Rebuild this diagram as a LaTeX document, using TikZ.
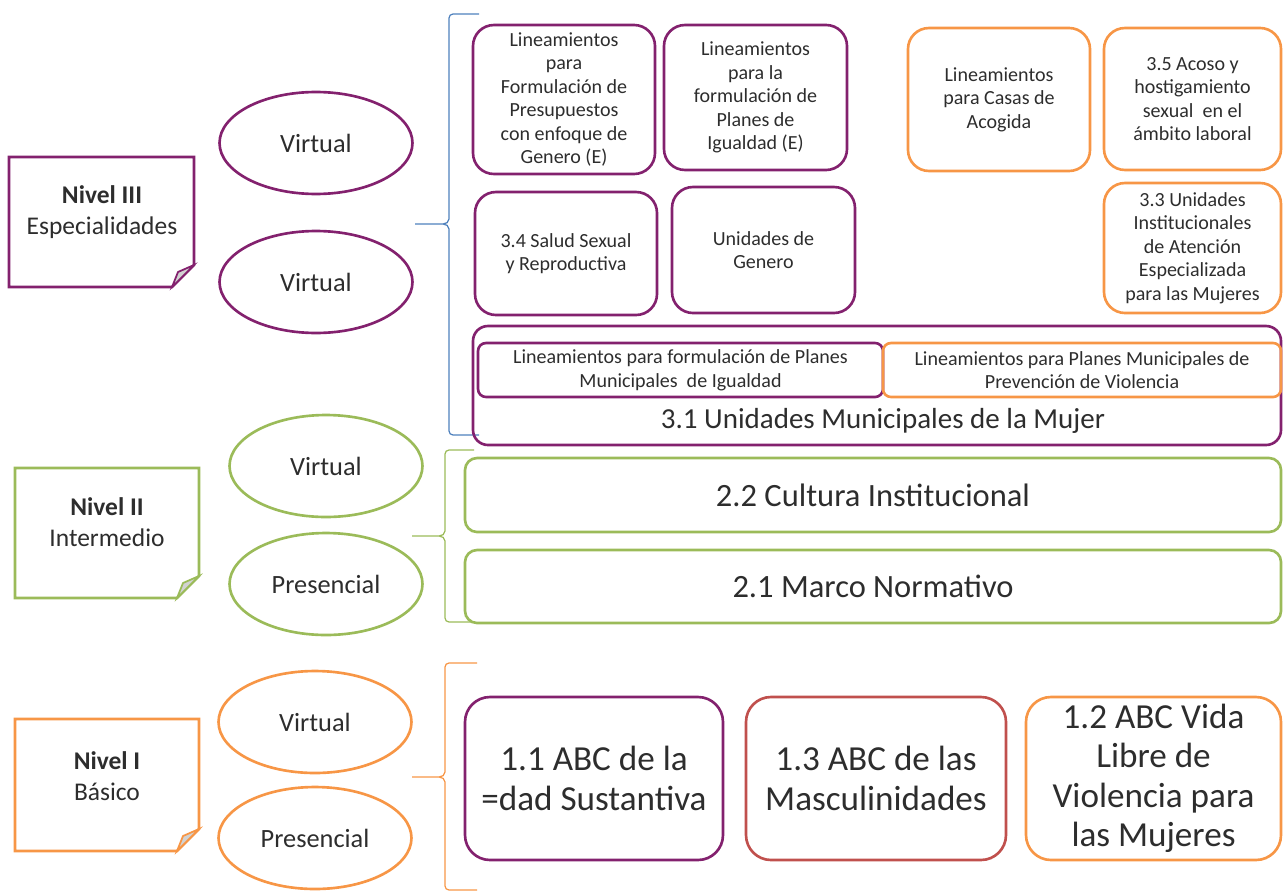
\documentclass[tikz,border=0pt]{standalone}
\usepackage{fontspec}
\setmainfont{Carlito}
\usetikzlibrary{calc,shapes.geometric}

\definecolor{purp}{RGB}{131,33,110}
\definecolor{orng}{RGB}{247,150,70}
\definecolor{grn}{RGB}{155,187,89}
\definecolor{redb}{RGB}{192,80,77}
\definecolor{blu}{RGB}{79,129,189}
\definecolor{txt}{RGB}{45,45,45}

\def\fsmall{\fontsize{11.4}{13.4}\selectfont}
\def\fmid{\fontsize{16.5}{19}\selectfont}
\def\fbig{\fontsize{18.5}{22}\selectfont}
\def\fhuge{\fontsize{20}{22.5}\selectfont}

\begin{document}
\begin{tikzpicture}[x=0.02cm,y=-0.02cm,
  box/.style={draw=#1, line width=1.5pt, rounded corners=0.42cm, inner sep=0pt, align=center, text=txt, font=\fsmall},
  wh/.style 2 args={minimum width=#1*0.02cm, minimum height=#2*0.02cm},
  oval/.style={draw=#1, line width=1.5pt, ellipse, minimum width=3.86cm, minimum height=2.04cm, inner sep=0pt, text=txt, font=\fontsize{15}{18}\selectfont},
  notetxt/.style={align=center, text=txt, font=\fontsize{14.5}{17.6}\selectfont}]

\useasboundingbox (0,0) rectangle (1283,892);

\def\levelbrace#1#2#3#4#5#6#7{\draw[#1, line width=0.7pt] (#7,#3) -- (#2+4,#3) to[out=180,in=90] (#2,#3+4) -- (#2,#4-5) to[out=-90,in=0] (#2-6,#4) -- (#6,#4) -- (#2-6,#4) to[out=0,in=90] (#2,#4+5) -- (#2,#5-4) to[out=-90,in=180] (#2+4,#5) -- (#7,#5);}
\def\notebox#1#2#3#4#5{\draw[#1, line width=1.5pt, line join=miter] (#2,#3) -- (#4,#3) -- (#4,#5-22) -- (#4-22,#5) -- (#2,#5) -- cycle;
  \filldraw[#1, fill=gray!35, line width=1pt] (#4,#5-22) -- (#4-16,#5-15) -- (#4-22,#5) -- cycle;}

% Nivel III
\notebox{purp}{9}{157}{194}{287}
\node[notetxt] (nivelIII) at (102,212) {\textbf{Nivel III}\\Especialidades};
\node[oval=purp] (virtIIIa) at (316,143) {Virtual};
\node[oval=purp] (virtIIIb) at (316,282) {Virtual};
\levelbrace{blu}{449}{14}{224}{435}{415}{479}

\node[box=purp, wh={182}{149}] (presup) at (564,99.5) {Lineamientos\\para\\Formulación de\\Presupuestos\\con enfoque de\\Genero (E)};
\node[box=purp, wh={183}{145}] (planes) at (755.5,97.5) {Lineamientos\\para la\\formulación de\\Planes de\\Igualdad (E)};
\node[box=orng, wh={182}{143}] (casas) at (999,99.5) {Lineamientos\\para Casas de\\Acogida};
\node[box=orng, wh={177}{142}] (acoso) at (1192.5,99) {3.5 Acoso y\\hostigamiento\\sexual \ en el\\ámbito laboral};
\node[box=purp, wh={182}{123}] (salud) at (566,253.5) {3.4 Salud Sexual\\y Reproductiva};
\node[box=purp, wh={183}{126}] (unigen) at (763.5,250) {Unidades de\\Genero};
\node[box=orng, wh={177}{130}] (uiaem) at (1192.5,248) {3.3 Unidades\\Institucionales\\de Atención\\Especializada\\para las Mujeres};

\node[box=purp, rounded corners=0.3cm, wh={808}{119}] (umm) at (877,385.5) {};
\node[text=txt, font=\fmid] (ummtxt) at (883,421) {3.1 Unidades Municipales de la Mujer};
\node[box=purp, rounded corners=0.16cm, wh={405}{54}] (pmig) at (680.5,370) {Lineamientos para formulación de Planes\\Municipales \ de Igualdad};
\node[box=orng, rounded corners=0.16cm, wh={398}{54}] (pmpv) at (1082,370) {Lineamientos para Planes Municipales de\\Prevención de Violencia};

% Nivel II
\notebox{grn}{15}{468}{199}{598}
\node[notetxt] (nivelII) at (107,522) {\textbf{Nivel II}\\Intermedio};
\node[oval=grn] (virtII) at (326,466) {Virtual};
\node[oval=grn] (presII) at (326,584) {Presencial};
\levelbrace{grn}{445}{450}{536}{622}{412}{474}

\node[box=grn, rounded corners=0.24cm, font=\fbig, wh={816}{74}] (cultura) at (873,495) {2.2 Cultura Institucional};
\node[box=grn, rounded corners=0.24cm, font=\fbig, wh={816}{73}] (marco) at (873,586.5) {2.1 Marco Normativo};

% Nivel I
\notebox{orng}{15}{719}{199}{851}
\node[notetxt] (nivelI) at (107,776) {\textbf{Nivel I}\\Básico};
\node[oval=orng] (virtI) at (315,722) {Virtual};
\node[oval=orng] (presI) at (315,838) {Presencial};
\levelbrace{orng}{445}{663}{777}{890}{412}{477}

\node[box=purp, rounded corners=0.5cm, font=\fhuge, wh={258}{163}] (abcig) at (594,778.5) {1.1 ABC de la\\=dad Sustantiva};
\node[box=redb, rounded corners=0.5cm, font=\fhuge, wh={260}{163}] (abcmas) at (876,778.5) {1.3 ABC de las\\Masculinidades};
\node[box=orng, rounded corners=0.5cm, font=\fhuge, wh={255}{163}] (abcvida) at (1153.5,778.5) {1.2 ABC Vida\\Libre de\\Violencia para\\las Mujeres};

\end{tikzpicture}
\end{document}
